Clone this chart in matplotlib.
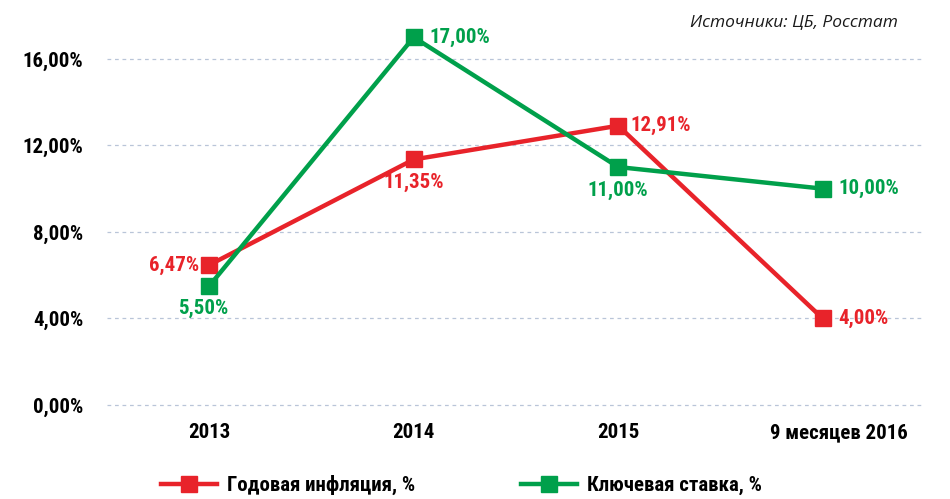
import matplotlib.pyplot as plt
from matplotlib.lines import Line2D
from matplotlib import font_manager
from matplotlib.transforms import ScaledTranslation

# data
years = ["2013", "2014", "2015", "9 месяцев 2016"]
inflation = [6.47, 11.35, 12.91, 4.00]
key_rate = [5.50, 17.00, 11.00, 10.00]
yticks = [0, 4, 8, 12, 16]

red = "#E8232A"
green = "#00A04B"

# pick a narrow face if one is installed
names = set(f.name for f in font_manager.fontManager.ttflist)
fnt = [n for n in ["Liberation Sans Narrow", "DejaVu Sans Condensed", "Roboto Condensed",
                   "Open Sans Condensed", "DejaVu Sans"] if n in names]
condensed = fnt[0] != "DejaVu Sans"
plt.rcParams['font.family'] = fnt
fs = 15 if condensed else 12.5

fig = plt.figure(figsize=(9.5, 4.99), dpi=100)
ax = fig.add_axes([0.1126, 0.182, 0.861, 0.778])

x = range(len(years))
ax.plot(x, inflation, color=red, lw=3.2, marker="s", ms=11, zorder=3)
ax.plot(x, key_rate, color=green, lw=3.2, marker="s", ms=11, zorder=4)

ax.set_xlim(-0.5, 3.5)
ax.set_ylim(-0.15, 17.8)
ax.set_yticks(yticks)
ax.set_yticklabels(["%d,00%%" % v for v in yticks], fontsize=fs, fontweight="bold")
ax.set_xticks(list(x))
ax.set_xticklabels(years, fontsize=fs, fontweight="bold")
ax.tick_params(length=0, pad=11)
ax.tick_params(axis="y", pad=17)
for s in ax.spines.values():
    s.set_visible(False)
ax.grid(axis="y", color="#B9C5D8", ls=(0, (3, 3)), lw=0.9)
ax.set_axisbelow(True)
# last category label sits a bit to the right in the original
last = ax.get_xticklabels()[-1]
last.set_transform(last.get_transform() + ScaledTranslation(0.16, 0, fig.dpi_scale_trans))

def fmt(v):
    return ("%.2f%%" % v).replace(".", ",")

lab = dict(fontsize=fs, fontweight="bold")
# inflation labels
ax.annotate(fmt(inflation[0]), (0, inflation[0]), xytext=(-7, 0), textcoords="offset points",
            ha="right", va="center", color=red, **lab)
ax.annotate(fmt(inflation[1]), (1, inflation[1]), xytext=(0, -10), textcoords="offset points",
            ha="center", va="top", color=red, **lab)
ax.annotate(fmt(inflation[2]), (2, inflation[2]), xytext=(9, 0), textcoords="offset points",
            ha="left", va="center", color=red, **lab)
ax.annotate(fmt(inflation[3]), (3, inflation[3]), xytext=(11, 0), textcoords="offset points",
            ha="left", va="center", color=red, **lab)
# key rate labels
ax.annotate(fmt(key_rate[0]), (0, key_rate[0]), xytext=(-4, -9), textcoords="offset points",
            ha="center", va="top", color=green, **lab)
ax.annotate(fmt(key_rate[1]), (1, key_rate[1]), xytext=(11, 0), textcoords="offset points",
            ha="left", va="center", color=green, **lab)
ax.annotate(fmt(key_rate[2]), (2, key_rate[2]), xytext=(0, -10), textcoords="offset points",
            ha="center", va="top", color=green, **lab)
ax.annotate(fmt(key_rate[3]), (3, key_rate[3]), xytext=(11, 0), textcoords="offset points",
            ha="left", va="center", color=green, **lab)

fig.text(0.945, 0.955, "Источники: ЦБ, Росстат", ha="right", va="center", fontsize=12.5,
         style="italic", family=["Open Sans", "DejaVu Sans"], color="#1a1a1a")

handles = [Line2D([], [], color=red, lw=3.2, marker="s", ms=12),
           Line2D([], [], color=green, lw=3.2, marker="s", ms=12)]
fig.legend(handles, ["Годовая инфляция, %", "Ключевая ставка, %"], loc="center",
           bbox_to_anchor=(0.486, 0.028), ncol=2, frameon=False, handlelength=2.65,
           handletextpad=0.5, columnspacing=5.1,
           prop=dict(family=fnt, weight="bold", size=fs))

fig.savefig("out.png", dpi=100)
